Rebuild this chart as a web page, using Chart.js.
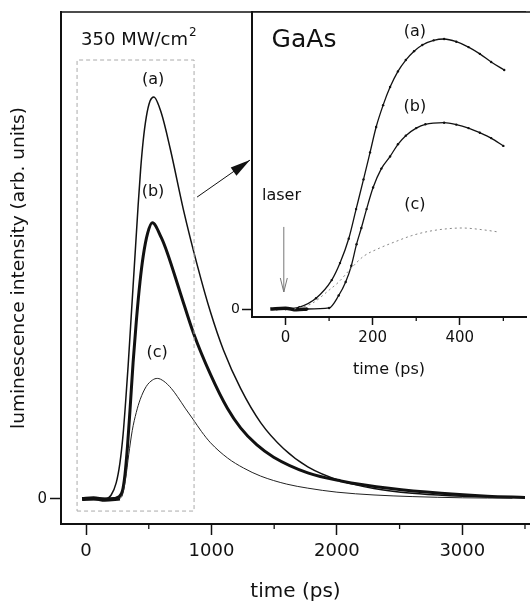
<!DOCTYPE html>
<html>
<head>
<meta charset="utf-8">
<script src="https://cdn.jsdelivr.net/npm/chart.js@4.4.0/dist/chart.umd.min.js"></script>
<style>
  html, body { margin: 0; padding: 0; background: #fff; }
  #wrap { position: relative; width: 530px; height: 602px; overflow: hidden; }
  #mainChart { position: absolute; left: 0; top: 0; }
  #insetChart { position: absolute; left: 200px; top: 0; }
</style>
</head>
<body>
<div id="wrap">
  <canvas id="mainChart" width="530" height="602"></canvas>
  <canvas id="insetChart" width="330" height="380"></canvas>
</div>
<script>
const FONT = '"DejaVu Sans", Arial, sans-serif';
const INK = '#111';

// main panel: time (ps) and luminescence (peak of (a) = 1)
const mainXTicks = [0, 1000, 2000, 3000];
const mainXMinor = [500, 1500, 2500, 3500];
const mainYTicks = [0];

const baseTime = [-32, 60, 150, 270];
const baseLum  = [0.0, 0.002, -0.002, 0.001];

const aTime = [-30, 100, 150, 200, 240, 270, 295, 315, 335, 355, 375, 395, 415, 435, 455, 480, 510, 540, 600, 672, 776, 888, 992, 1096, 1232, 1392, 1576, 1768, 2032, 2296, 2600, 2900, 3200, 3500];
const aLum  = [0, 0, 0.0, 0.01, 0.04, 0.09, 0.16, 0.24, 0.33, 0.43, 0.53, 0.63, 0.73, 0.82, 0.89, 0.95, 0.99, 1.0, 0.96, 0.87, 0.72, 0.58, 0.465, 0.37, 0.275, 0.19, 0.125, 0.08, 0.045, 0.026, 0.014, 0.008, 0.005, 0.003];

const bTime = [-30, 150, 200, 260, 290, 310, 330, 350, 375, 400, 430, 456, 490, 528, 600, 648, 752, 856, 992, 1128, 1232, 1360, 1496, 1768, 2032, 2432, 2832, 3200, 3500];
const bLum  = [0, 0, 0, 0.005, 0.02, 0.06, 0.13, 0.22, 0.34, 0.44, 0.54, 0.605, 0.66, 0.687, 0.65, 0.612, 0.512, 0.413, 0.31, 0.225, 0.177, 0.135, 0.104, 0.065, 0.045, 0.026, 0.014, 0.007, 0.004];

const cTime = [260, 290, 315, 340, 368, 400, 432, 480, 530, 568, 620, 680, 728, 790, 856, 920, 992, 1128, 1256, 1392, 1600, 1768, 2000, 2296, 2600, 3000, 3400];
const cLum  = [0, 0.01, 0.05, 0.11, 0.17, 0.215, 0.248, 0.28, 0.296, 0.30, 0.293, 0.275, 0.255, 0.226, 0.197, 0.168, 0.14, 0.102, 0.077, 0.057, 0.037, 0.027, 0.017, 0.01, 0.006, 0.003, 0.002];

// dashed box marking the zoomed region
const boxTime = [-72, 861, 861, -72, -72];
const boxLum  = [-0.03, -0.03, 1.092, 1.092, -0.03];

// inset: first 500 ps (peak of (a) = 1)
const insetXTicks = [0, 200, 400];
const insetXMinor = [100, 300, 500];
const insetYTicks = [0];

const inBaseTime = [-35, 0, 25, 50];
const inBaseLum  = [0, 0.003, -0.003, 0.0];

const inATime = [-20, 0, 32, 70, 106, 125, 145, 162, 179, 194, 208, 224, 240, 258, 276, 295, 314, 340, 364, 392, 420, 446, 472, 502];
const inALum  = [0, 0, 0.007, 0.04, 0.107, 0.17, 0.26, 0.37, 0.48, 0.58, 0.674, 0.755, 0.822, 0.88, 0.922, 0.955, 0.978, 0.995, 1.0, 0.99, 0.97, 0.945, 0.915, 0.885];

const inBTime = [-20, 0, 50, 100, 122, 138, 151, 163, 174, 186, 201, 220, 240, 258, 276, 300, 321, 364, 392, 420, 446, 472, 500];
const inBLum  = [0, 0, 0, 0.004, 0.05, 0.1, 0.16, 0.24, 0.3, 0.37, 0.45, 0.52, 0.565, 0.61, 0.642, 0.67, 0.684, 0.69, 0.683, 0.67, 0.653, 0.633, 0.604];

const inCTime = [20, 60, 100, 122, 150, 179, 215, 253, 290, 330, 370, 405, 450, 490];
const inCLum  = [0, 0.02, 0.07, 0.1, 0.15, 0.195, 0.225, 0.25, 0.272, 0.288, 0.297, 0.3, 0.294, 0.285];

function pts(xs, ys) {
    return xs.map((x, i) => ({ x: x, y: ys[i] }));
}

function line(data, color, width, extra) {
    return Object.assign({
        data: data,
        borderColor: color,
        backgroundColor: color,
        borderWidth: width,
        pointRadius: 0,
        fill: false,
        cubicInterpolationMode: 'monotone'
    }, extra || {});
}

function drawArrow(ctx, x1, y1, x2, y2, len, half, filled, color) {
    const ang = Math.atan2(y2 - y1, x2 - x1);
    ctx.save();
    ctx.strokeStyle = color;
    ctx.fillStyle = color;
    ctx.lineWidth = 1;
    ctx.beginPath();
    ctx.moveTo(x1, y1);
    ctx.lineTo(x2, y2);
    ctx.stroke();
    const bx = x2 - len * Math.cos(ang), by = y2 - len * Math.sin(ang);
    const px = -Math.sin(ang) * half, py = Math.cos(ang) * half;
    ctx.beginPath();
    ctx.moveTo(bx + px, by + py);
    ctx.lineTo(x2, y2);
    ctx.lineTo(bx - px, by - py);
    if (filled) { ctx.closePath(); ctx.fill(); } else { ctx.stroke(); }
    ctx.restore();
}

function minorTicks(chart, values, len) {
    const ctx = chart.ctx, xs = chart.scales.x, bottom = chart.chartArea.bottom;
    ctx.save();
    ctx.strokeStyle = INK;
    ctx.lineWidth = 1.3;
    values.forEach(v => {
        const px = xs.getPixelForValue(v);
        ctx.beginPath();
        ctx.moveTo(px, bottom);
        ctx.lineTo(px, bottom + len);
        ctx.stroke();
    });
    ctx.restore();
}

function topLine(chart) {
    const ctx = chart.ctx, a = chart.chartArea;
    ctx.save();
    ctx.strokeStyle = INK;
    ctx.lineWidth = 1.5;
    ctx.beginPath();
    ctx.moveTo(a.left, a.top);
    ctx.lineTo(a.right, a.top);
    ctx.stroke();
    ctx.restore();
}

function text(ctx, str, x, y, size, align) {
    ctx.font = size + 'px ' + FONT;
    ctx.fillStyle = INK;
    ctx.textAlign = align || 'center';
    ctx.textBaseline = 'middle';
    ctx.fillText(str, x, y);
}

const mainDecor = {
    id: 'mainDecor',
    afterDraw(chart) {
        const ctx = chart.ctx, xs = chart.scales.x, ys = chart.scales.y;
        topLine(chart);
        minorTicks(chart, mainXMinor, 5);
        const X = v => xs.getPixelForValue(v), Y = v => ys.getPixelForValue(v);

        // 350 MW/cm2
        const lx = X(-40), ly = Y(1.142);
        text(ctx, '350 MW/cm', lx, ly, 18, 'left');
        const w = ctx.measureText('350 MW/cm').width;
        text(ctx, '2', lx + w + 1, ly - 7, 12, 'left');

        text(ctx, '(a)', X(534), Y(1.042), 16);
        text(ctx, '(b)', X(534), Y(0.764), 16);
        text(ctx, '(c)', X(566), Y(0.363), 16);

        drawArrow(ctx, X(885), Y(0.751), X(1307), Y(0.843), 20, 5, true, INK);
    }
};

const insetDecor = {
    id: 'insetDecor',
    beforeDraw(chart) {
        const ctx = chart.ctx, a = chart.chartArea;
        ctx.save();
        ctx.fillStyle = '#fff';
        ctx.fillRect(a.left, a.top, a.right - a.left, a.bottom - a.top);
        ctx.restore();
    },
    afterDraw(chart) {
        const ctx = chart.ctx, xs = chart.scales.x, ys = chart.scales.y;
        topLine(chart);
        minorTicks(chart, insetXMinor, 4);
        const X = v => xs.getPixelForValue(v), Y = v => ys.getPixelForValue(v);

        text(ctx, 'GaAs', X(-32), Y(0.993), 25, 'left');
        text(ctx, 'laser', X(-54), Y(0.419), 16, 'left');
        text(ctx, '(a)', X(297), Y(1.026), 16);
        text(ctx, '(b)', X(297), Y(0.748), 16);
        text(ctx, '(c)', X(297), Y(0.385), 16);

        drawArrow(ctx, X(-4), Y(0.304), X(-4), Y(0.063), 14, 3.5, false, '#777');
    }
};

function axisX(min, max, ticks, fit, tickLen, size, pad, title) {
    return {
        type: 'linear', min: min, max: max,
        afterBuildTicks: s => { s.ticks = ticks.map(v => ({ value: v })); },
        afterFit: s => { s.height = fit; },
        ticks: { font: { family: FONT, size: size }, color: INK, padding: pad, maxRotation: 0, callback: v => String(v) },
        grid: { drawOnChartArea: false, drawTicks: true, tickLength: tickLen, tickColor: INK, tickWidth: 1.5 },
        border: { display: true, color: INK, width: 2 },
        title: title
    };
}

function axisY(min, max, ticks, fit, tickLen, size, pad, title) {
    return {
        type: 'linear', min: min, max: max,
        afterBuildTicks: s => { s.ticks = ticks.map(v => ({ value: v })); },
        afterFit: s => { s.width = fit; },
        ticks: { font: { family: FONT, size: size }, color: INK, padding: pad, callback: v => String(v) },
        grid: { drawOnChartArea: false, drawTicks: true, tickLength: tickLen, tickColor: INK, tickWidth: 1.5 },
        border: { display: true, color: INK, width: 2 },
        title: title
    };
}

new Chart(document.getElementById('mainChart'), {
    type: 'line',
    data: {
        datasets: [
            line(pts(boxTime, boxLum), '#aaa', 1, { borderDash: [4, 3], cubicInterpolationMode: 'default', tension: 0 }),
            line(pts(cTime, cLum), '#222', 1),
            line(pts(bTime, bLum), INK, 3),
            line(pts(aTime, aLum), INK, 1.5),
            line(pts(baseTime, baseLum), INK, 4)
        ]
    },
    options: {
        responsive: false,
        devicePixelRatio: 1,
        animation: false,
        layout: { padding: { top: 12, left: 0, right: 0, bottom: 0 } },
        plugins: { legend: { display: false }, tooltip: { enabled: false } },
        scales: {
            x: axisX(-200, 3540, mainXTicks, 78, 11, 18, 6,
                { display: true, text: 'time (ps)', color: INK, font: { family: FONT, size: 20, lineHeight: 1 }, padding: 0 }),
            y: axisY(-0.0622, 1.2114, mainYTicks, 61, 11, 15, 3,
                { display: true, text: 'luminescence intensity (arb. units)', color: INK, font: { family: FONT, size: 18.5, lineHeight: 1.2 }, padding: { top: 8, bottom: 0 } })
        }
    },
    plugins: [mainDecor]
});

new Chart(document.getElementById('insetChart'), {
    type: 'line',
    data: {
        datasets: [
            line(pts(inCTime, inCLum), '#888', 1, { borderDash: [2, 3] }),
            line(pts(inBTime, inBLum), INK, 1.3, { pointRadius: 1.2, pointBorderWidth: 0 }),
            line(pts(inATime, inALum), INK, 1.3, { pointRadius: 1.2, pointBorderWidth: 0 }),
            line(pts(inBaseTime, inBaseLum), INK, 3.5)
        ]
    },
    options: {
        responsive: false,
        devicePixelRatio: 1,
        animation: false,
        layout: { padding: { top: 12, left: 0, right: 0, bottom: 0 } },
        plugins: { legend: { display: false }, tooltip: { enabled: false } },
        scales: {
            x: axisX(-77, 552, insetXTicks, 63, 8, 15, 4,
                { display: true, text: 'time (ps)', color: INK, font: { family: FONT, size: 16, lineHeight: 1.25 }, padding: 0 }),
            y: axisY(-0.0296, 1.1, insetYTicks, 52, 10, 14, 2, { display: false })
        }
    },
    plugins: [insetDecor]
});
</script>
</body>
</html>
